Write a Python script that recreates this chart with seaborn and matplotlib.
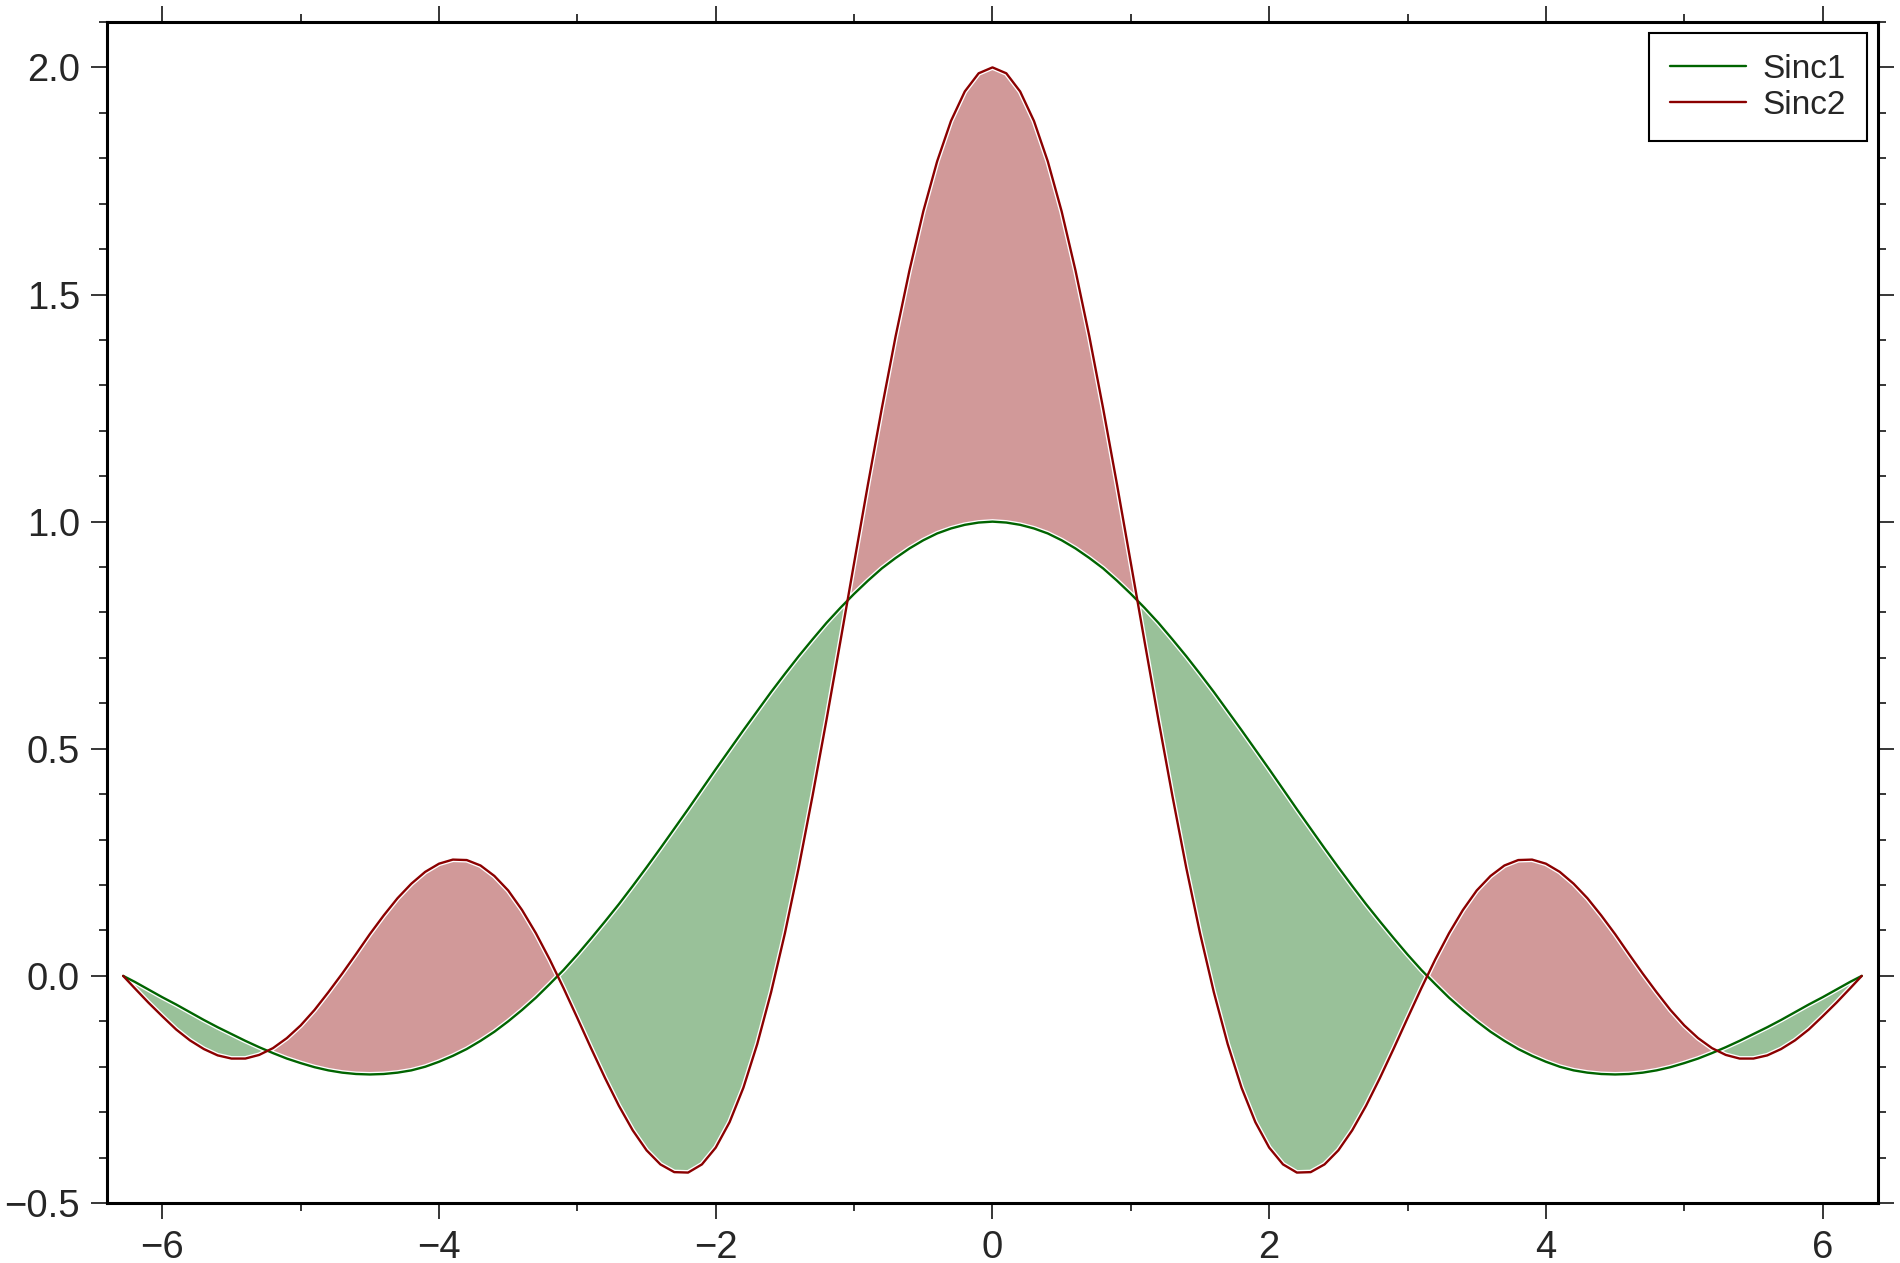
import numpy as np
import pandas as pd
import seaborn as sns
import matplotlib
matplotlib.use("Agg")
import matplotlib.pyplot as plt
from matplotlib.ticker import MultipleLocator

# sample positions along x
x_vals = [
    -6.283, -6.2, -6.1, -6.0, -5.9, -5.8, -5.7, -5.6, -5.5, -5.4, -5.3, -5.2, -5.1, -5.0,
    -4.9, -4.8, -4.7, -4.6, -4.5, -4.4, -4.3, -4.2, -4.1, -4.0, -3.9, -3.8, -3.7, -3.6,
    -3.5, -3.4, -3.3, -3.2, -3.1, -3.0, -2.9, -2.8, -2.7, -2.6, -2.5, -2.4, -2.3, -2.2,
    -2.1, -2.0, -1.9, -1.8, -1.7, -1.6, -1.5, -1.4, -1.3, -1.2, -1.1, -1.0, -0.9, -0.8,
    -0.7, -0.6, -0.5, -0.4, -0.3, -0.2, -0.1, 0.0,
    0.1, 0.2, 0.3, 0.4, 0.5, 0.6, 0.7, 0.8, 0.9, 1.0, 1.1, 1.2, 1.3, 1.4, 1.5, 1.6, 1.7,
    1.8, 1.9, 2.0, 2.1, 2.2, 2.3, 2.4, 2.5, 2.6, 2.7, 2.8, 2.9, 3.0, 3.1, 3.2, 3.3, 3.4,
    3.5, 3.6, 3.7, 3.8, 3.9, 4.0, 4.1, 4.2, 4.3, 4.4, 4.5, 4.6, 4.7, 4.8, 4.9, 5.0, 5.1,
    5.2, 5.3, 5.4, 5.5, 5.6, 5.7, 5.8, 5.9, 6.0, 6.1, 6.2, 6.283,
]

sinc1_vals = [
    0.0, -0.013, -0.030, -0.047, -0.063, -0.080, -0.097, -0.113, -0.128, -0.143, -0.157,
    -0.170, -0.182, -0.192, -0.201, -0.208, -0.213, -0.216, -0.217, -0.216, -0.213, -0.208,
    -0.200, -0.189, -0.176, -0.161, -0.143, -0.123, -0.100, -0.075, -0.048, -0.018, 0.013,
    0.047, 0.083, 0.120, 0.158, 0.198, 0.239, 0.281, 0.324, 0.367, 0.411, 0.455, 0.498,
    0.541, 0.583, 0.625, 0.665, 0.704, 0.741, 0.777, 0.810, 0.841, 0.870, 0.897, 0.920,
    0.941, 0.959, 0.974, 0.985, 0.993, 0.998, 1.000,
    0.998, 0.993, 0.985, 0.974, 0.959, 0.941, 0.920, 0.897, 0.870, 0.841, 0.810, 0.777,
    0.741, 0.704, 0.665, 0.625, 0.583, 0.541, 0.498, 0.455, 0.411, 0.367, 0.324, 0.281,
    0.239, 0.198, 0.158, 0.120, 0.083, 0.047, 0.013, -0.018, -0.048, -0.075, -0.100,
    -0.123, -0.143, -0.161, -0.176, -0.189, -0.200, -0.208, -0.213, -0.216, -0.217,
    -0.216, -0.213, -0.208, -0.201, -0.192, -0.182, -0.170, -0.157, -0.143, -0.128,
    -0.113, -0.097, -0.080, -0.063, -0.047, -0.030, -0.013, 0.0,
]

sinc2_vals = [
    0.0, -0.027, -0.059, -0.089, -0.118, -0.142, -0.161, -0.175, -0.182, -0.182, -0.174,
    -0.159, -0.137, -0.109, -0.075, -0.036, 0.005, 0.048, 0.092, 0.133, 0.171, 0.203,
    0.229, 0.247, 0.256, 0.255, 0.243, 0.220, 0.188, 0.145, 0.094, 0.036, -0.027, -0.093,
    -0.160, -0.225, -0.286, -0.340, -0.384, -0.415, -0.432, -0.433, -0.415, -0.378,
    -0.322, -0.246, -0.150, -0.036, 0.094, 0.239, 0.397, 0.563, 0.735, 0.909, 1.082,
    1.249, 1.408, 1.553, 1.683, 1.793, 1.882, 1.947, 1.987, 2.000,
    1.987, 1.947, 1.882, 1.793, 1.683, 1.553, 1.408, 1.249, 1.082, 0.909, 0.735, 0.563,
    0.397, 0.239, 0.094, -0.036, -0.150, -0.246, -0.322, -0.378, -0.415, -0.433, -0.432,
    -0.415, -0.384, -0.340, -0.286, -0.225, -0.160, -0.093, -0.027, 0.036, 0.094, 0.145,
    0.188, 0.220, 0.243, 0.255, 0.256, 0.247, 0.229, 0.203, 0.171, 0.133, 0.092, 0.048,
    0.005, -0.036, -0.075, -0.109, -0.137, -0.159, -0.174, -0.182, -0.182, -0.175,
    -0.161, -0.142, -0.118, -0.089, -0.059, -0.027, 0.0,
]

line_green = "#006400"
line_red = "#8b0000"
fill_green = "#99c199"
fill_red = "#d19999"

df = pd.DataFrame({"x": x_vals, "Sinc1": sinc1_vals, "Sinc2": sinc2_vals})

sns.set_style("ticks")
plt.rcParams["font.family"] = ["Liberation Sans", "DejaVu Sans"]

fig = plt.figure(figsize=(19, 12.63), dpi=100)
ax = fig.add_axes([0.0563, 0.0475, 0.9321, 0.9351])

x = df["x"].to_numpy()
y1 = df["Sinc1"].to_numpy()
y2 = df["Sinc2"].to_numpy()

# shaded areas between the two curves, white outline like the original
ax.fill_between(x, y1, y2, where=y2 >= y1, interpolate=True,
                facecolor=fill_red, edgecolor="white", linewidth=3.6, zorder=1)
ax.fill_between(x, y1, y2, where=y1 >= y2, interpolate=True,
                facecolor=fill_green, edgecolor="white", linewidth=3.6, zorder=1)

sns.lineplot(data=df, x="x", y="Sinc1", ax=ax, color=line_green, lw=1.7,
             label="Sinc1", zorder=2, sort=False)
sns.lineplot(data=df, x="x", y="Sinc2", ax=ax, color=line_red, lw=1.7,
             label="Sinc2", zorder=2, sort=False)

ax.set_xlim(-6.4, 6.4)
ax.set_ylim(-0.5, 2.1)
ax.set_xlabel("")
ax.set_ylabel("")

ax.xaxis.set_major_locator(MultipleLocator(2))
ax.xaxis.set_minor_locator(MultipleLocator(1))
ax.yaxis.set_major_locator(MultipleLocator(0.5))
ax.yaxis.set_minor_locator(MultipleLocator(0.1))

for s in ax.spines.values():
    s.set_visible(True)
    s.set_linewidth(2.2)
    s.set_color("black")

ax.tick_params(which="both", direction="out", top=True, right=True,
               labeltop=False, labelright=False, color="black", width=1.1)
ax.tick_params(which="major", length=11.5, labelsize=27.5, pad=8)
ax.tick_params(which="minor", length=5.8)

leg = ax.legend(loc="upper right", bbox_to_anchor=(0.9938, 0.9907), borderaxespad=0,
                fontsize=24, frameon=True, fancybox=False, framealpha=1,
                edgecolor="black", handlelength=2.3, handletextpad=0.5,
                labelspacing=0.15, borderpad=0.62)
leg.get_frame().set_linewidth(1.5)
for h in leg.get_lines():
    h.set_linewidth(1.7)

fig.savefig("out.png", dpi=100)
